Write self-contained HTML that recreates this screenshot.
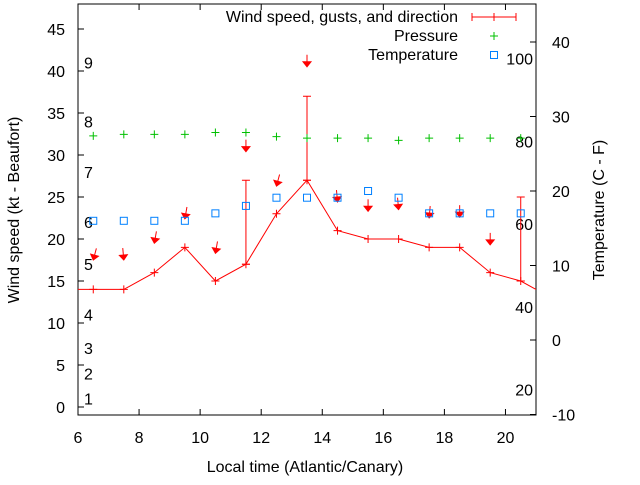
<!DOCTYPE html>
<html><head><meta charset="utf-8"><style>
body{margin:0;background:#fff}
svg text{font-family:"Liberation Sans",sans-serif;font-size:16px;fill:#000}
</style></head><body>
<svg id="chart" width="640" height="480" xmlns="http://www.w3.org/2000/svg">
<g id="axes"></g><g id="marks"></g>
</svg>
<script>
const hours=[6.5,7.5,8.5,9.5,10.5,11.5,12.5,13.5,14.5,15.5,16.5,17.5,18.5,19.5,20.5];
const lineHours=[5.5,6.5,7.5,8.5,9.5,10.5,11.5,12.5,13.5,14.5,15.5,16.5,17.5,18.5,19.5,20.5,21.5];
const windSpeed=[14,14,14,16,19,15,17,23,27,21,20,20,19,19,16,15,13];
const gustHours=[11.5,13.5,20.5];
const gustLow=[17,27,15];
const gustHigh=[27,37,25];
const arrowPos=[17.5,17.5,19.5,22.4,18.3,30.4,26.3,40.5,24.4,23.3,23.5,22.5,22.6,19.3];
const arrowDir=[15,355,10,10,10,0,15,0,355,0,355,5,0,0];
const pressure=[27.4,27.6,27.6,27.6,27.85,27.85,27.3,27.1,27.1,27.1,26.8,27.1,27.1,27.1,27.1];
const temperature=[16,16,16,16,17,18,19.1,19.1,19.1,20,19.1,17,17,17,17];
const xTicks=[6,8,10,12,14,16,18,20];
const yTicks=[0,5,10,15,20,25,30,35,40,45];
const y2Ticks=[-10,0,10,20,30,40];
const beaufortLabels=[1,2,3,4,5,6,7,8,9];
const beaufortKt=[1,4,7,11,17,22,28,34,41];
const fahrenheitLabels=[20,40,60,80,100];

const L=78,R=536,T=4,B=415;
const X=v=>L+(v-6)/(21-6)*(R-L);
const Y=v=>407-v*8.4;
const Y2=v=>340-v*7.45;
const NS='http://www.w3.org/2000/svg';
function mk(tag,attrs,parent,text){const e=document.createElementNS(NS,tag);for(const k in attrs)e.setAttribute(k,attrs[k]);if(text!==undefined)e.textContent=text;parent.appendChild(e);return e;}
const ax=document.getElementById('axes'),mg=document.getElementById('marks');

let e=mk('rect',{x:L,y:T,width:R-L,height:B-T,fill:'none',stroke:'#000','stroke-width':1},ax);


xTicks.forEach(v=>{
  mk('line',{x1:X(v),x2:X(v),y1:B,y2:B-6,stroke:'#000'},ax);
  mk('line',{x1:X(v),x2:X(v),y1:T,y2:T+6,stroke:'#000'},ax);
  const t=mk('text',{x:X(v),y:443,'text-anchor':'middle'},ax,v);
  
  
});
yTicks.forEach(v=>{
  mk('line',{x1:L,x2:L+6,y1:Y(v),y2:Y(v),stroke:'#000'},ax);
  const t=mk('text',{x:65,y:Y(v)+6,'text-anchor':'end'},ax,v);
  
  
});
y2Ticks.forEach(v=>{
  mk('line',{x1:R,x2:R-6,y1:Y2(v),y2:Y2(v),stroke:'#000'},ax);
  const t=mk('text',{x:552,y:Y2(v)+6,'text-anchor':'start'},ax,v);
  
  
});
beaufortLabels.forEach((b,i)=>{
  const t=mk('text',{x:84,y:Y(beaufortKt[i])+6},ax,b);
  
  
});
fahrenheitLabels.forEach(f=>{
  const t=mk('text',{x:533,y:Y2((f-32)*5/9)+6,'text-anchor':'end'},ax,f);
  
  
});
e=mk('text',{x:305,y:472,'text-anchor':'middle'},ax,'Local time (Atlantic/Canary)');


e=mk('text',{x:0,y:0,'text-anchor':'middle',transform:'translate(19,210) rotate(-90)'},ax,'Wind speed (kt - Beaufort)');


e=mk('text',{x:0,y:0,'text-anchor':'middle',transform:'translate(604,210) rotate(-90)'},ax,'Temperature (C - F)');



const defs=mk('defs',{},mg);const cp=mk('clipPath',{id:'clip'},defs);mk('rect',{x:L,y:T,width:R-L,height:B-T},cp);
const g=mk('g',{'clip-path':'url(#clip)'},mg);
function plus(x,y,c,s){mk('path',{d:`M${x-s} ${y}H${x+s}M${x} ${y-s}V${y+s}`,stroke:c,'stroke-width':1,fill:'none'},g);}

e=mk('polyline',{points:lineHours.map((h,i)=>X(h)+','+Y(windSpeed[i])).join(' '),fill:'none',stroke:'#f00','stroke-width':1},g);


lineHours.forEach((h,i)=>plus(X(h),Y(windSpeed[i]),'#f00',4));
gustHours.forEach((h,i)=>{
  const el=mk('path',{d:`M${X(h)} ${Y(gustLow[i])}V${Y(gustHigh[i])}M${X(h)-4} ${Y(gustHigh[i])}H${X(h)+4}M${X(h)-4} ${Y(gustLow[i])}H${X(h)+4}`,stroke:'#f00',fill:'none'},g);
  
  
});
arrowPos.forEach((p,i)=>{
  const hx=X(hours[i]),hy=Y(p),a=arrowDir[i]*Math.PI/180,len=12;
  const dx=-Math.sin(a),dy=Math.cos(a);
  const tx=hx-dx*len,ty=hy-dy*len;
  const px=-dy,py=dx;
  const bx=hx-dx*5,by=hy-dy*5;
  const grp=mk('g',{},g);
  
  
  mk('line',{x1:tx,y1:ty,x2:hx,y2:hy,stroke:'#f00'},grp);
  mk('polygon',{points:`${hx},${hy} ${bx+px*4},${by+py*4} ${bx-px*4},${by-py*4}`,fill:'#f00',stroke:'#f00'},grp);
});
hours.forEach((h,i)=>{
  const gp=mk('path',{d:`M${X(h)-4} ${Y2(pressure[i])}H${X(h)+4}M${X(h)} ${Y2(pressure[i])-4}V${Y2(pressure[i])+4}`,stroke:'#00c000',fill:'none'},g);
  
  
  const sq=mk('rect',{x:X(h)-3.5,y:Y2(temperature[i])-3.5,width:7,height:7,fill:'none',stroke:'#0080ff'},g);
  
  
});
const lg=mk('g',{},mg);


mk('text',{x:458,y:22,'text-anchor':'end'},lg,'Wind speed, gusts, and direction');
mk('path',{d:'M472 17H516M472 13V21M516 13V21M494 13V21',stroke:'#f00',fill:'none'},lg);
mk('text',{x:458,y:41,'text-anchor':'end'},lg,'Pressure');
mk('path',{d:'M490 36H498M494 32V40',stroke:'#00c000',fill:'none'},lg);
mk('text',{x:458,y:60,'text-anchor':'end'},lg,'Temperature');
mk('rect',{x:490.5,y:51.5,width:7,height:7,fill:'none',stroke:'#0080ff'},lg);
</script>
</body></html>
